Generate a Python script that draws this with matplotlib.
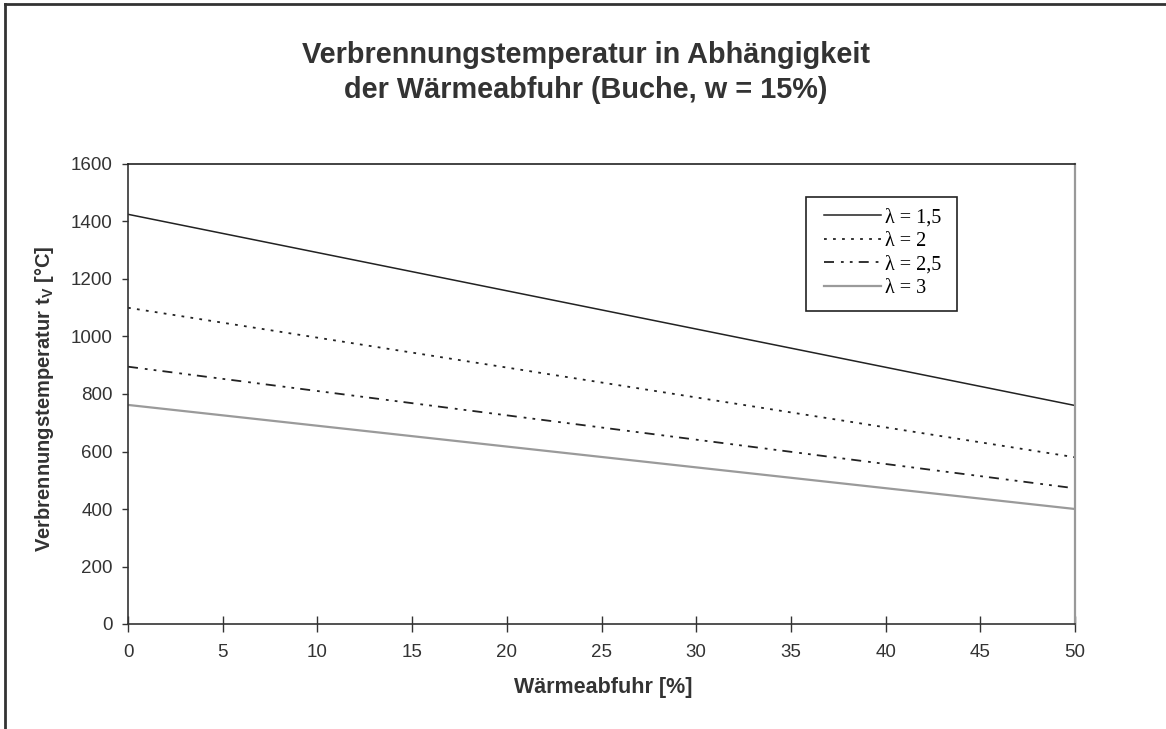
import matplotlib
matplotlib.use("Agg")
import numpy as np
import matplotlib.pyplot as plt
from matplotlib.lines import Line2D
from matplotlib.patches import Rectangle
from matplotlib.legend_handler import HandlerLine2D

# Data
waermeabfuhr = [0, 50]
temp_lambda_15 = [1425, 760]
temp_lambda_2 = [1100, 580]
temp_lambda_25 = [895, 472]
temp_lambda_3 = [762, 400]
labels = ["λ = 1,5", "λ = 2", "λ = 2,5", "λ = 3"]
x_ticks = list(range(0, 51, 5))
y_ticks = list(range(0, 1601, 200))

plt.rcParams['font.family'] = ['Liberation Sans', 'DejaVu Sans']
plt.rcParams['lines.scale_dashes'] = False
plt.rcParams['mathtext.fontset'] = 'custom'
plt.rcParams['mathtext.rm'] = 'Liberation Sans'
plt.rcParams['mathtext.bf'] = 'Liberation Sans:bold'


class ShiftedLineHandler(HandlerLine2D):
    """Legend line drawn only in the right part of the handle box."""
    def create_artists(self, legend, orig_handle, xdescent, ydescent, width,
                       height, fontsize, trans):
        artists = super().create_artists(legend, orig_handle, xdescent, ydescent,
                                         width, height, fontsize, trans)
        for a in artists:
            xd = np.asarray(a.get_xdata(), dtype=float)
            if len(xd) >= 2:
                start = xd[0] + 0.15 * (xd[-1] - xd[0])
                a.set_xdata(np.linspace(start, xd[-1], len(xd)))
        return artists


W, H = 1166, 729
fig = plt.figure(figsize=(W / 100, H / 100), dpi=100)
ax = fig.add_axes([128 / W, (H - 624) / H, 947 / W, 460 / H])

dark = '#333333'
l1, = ax.plot(waermeabfuhr, temp_lambda_15, color='#222222', lw=1.1, ls='-', label=labels[0])
l2, = ax.plot(waermeabfuhr, temp_lambda_2, color='#222222', lw=1.3, ls=(0, (2.0, 4.5)), label=labels[1])
l3, = ax.plot(waermeabfuhr, temp_lambda_25, color='#222222', lw=1.3,
              ls=(0, (7.2, 5.0, 2.0, 4.4, 2.0, 4.4)), label=labels[2])
l4, = ax.plot(waermeabfuhr, temp_lambda_3, color='#9a9a9a', lw=1.6, ls='-', label=labels[3])

ax.set_xlim(0, 50)
ax.set_ylim(0, 1600)
ax.set_xticks(x_ticks)
ax.set_yticks(y_ticks)
ax.tick_params(axis='y', direction='out', length=4, width=1, color=dark,
               labelsize=13.5, labelcolor='#333333', pad=7)
ax.tick_params(axis='x', direction='inout', length=11, width=1, color=dark,
               labelsize=13.5, labelcolor='#333333', pad=9)

for side in ['left', 'bottom']:
    ax.spines[side].set_color(dark)
    ax.spines[side].set_linewidth(1.2)
ax.spines['top'].set_color('#222222')
ax.spines['top'].set_linewidth(1.2)
ax.spines['right'].set_color('#999999')
ax.spines['right'].set_linewidth(1.6)

ax.set_xlabel('Wärmeabfuhr [%]', fontsize=15.5, fontweight='bold', color='#333333')
ax.xaxis.set_label_coords((603 - 128) / 947, (624 - 688) / 460)
ax.xaxis.label.set_verticalalignment('center')
ax.set_ylabel(r'Verbrennungstemperatur t$_{\mathregular{V}}$ [°C]', fontsize=14.5,
              fontweight='bold', color='#333333')
ax.yaxis.set_label_coords((45 - 128) / 947, (624 - 399) / 460)
ax.yaxis.label.set_verticalalignment('center')

fig.text(586 / W, 1 - 63 / H, 'Verbrennungstemperatur in Abhängigkeit',
         ha='center', va='baseline', fontsize=20.8, fontweight='bold', color='#333333')
fig.text(586 / W, 1 - 98.5 / H, 'der Wärmeabfuhr (Buche, w = 15%)',
         ha='center', va='baseline', fontsize=20.8, fontweight='bold', color='#333333')

leg = ax.legend(handles=[l1, l2, l3, l4],
                loc='upper left', bbox_to_anchor=((806 - 128) / 947, (624 - 200) / 460),
                prop={'family': 'Liberation Serif', 'size': 14.5},
                frameon=False, handlelength=3.3, handletextpad=0.2,
                labelspacing=0.22, borderpad=0.4, borderaxespad=0,
                handler_map={Line2D: ShiftedLineHandler()})

# legend box
ax.add_patch(Rectangle(((806 - 128) / 947, (624 - 311) / 460), (957 - 806) / 947,
                       (311 - 197) / 460, transform=ax.transAxes, fill=False,
                       edgecolor='#222222', lw=1.2, zorder=5))

# outer frame (left and top edges)
fig.add_artist(Line2D([5 / W, 5 / W], [0, 1 - 4 / H], transform=fig.transFigure,
                      color='#333333', lw=2))
fig.add_artist(Line2D([5 / W, 1], [1 - 4 / H, 1 - 4 / H], transform=fig.transFigure,
                      color='#333333', lw=2))

fig.savefig('out.png', dpi=100)
